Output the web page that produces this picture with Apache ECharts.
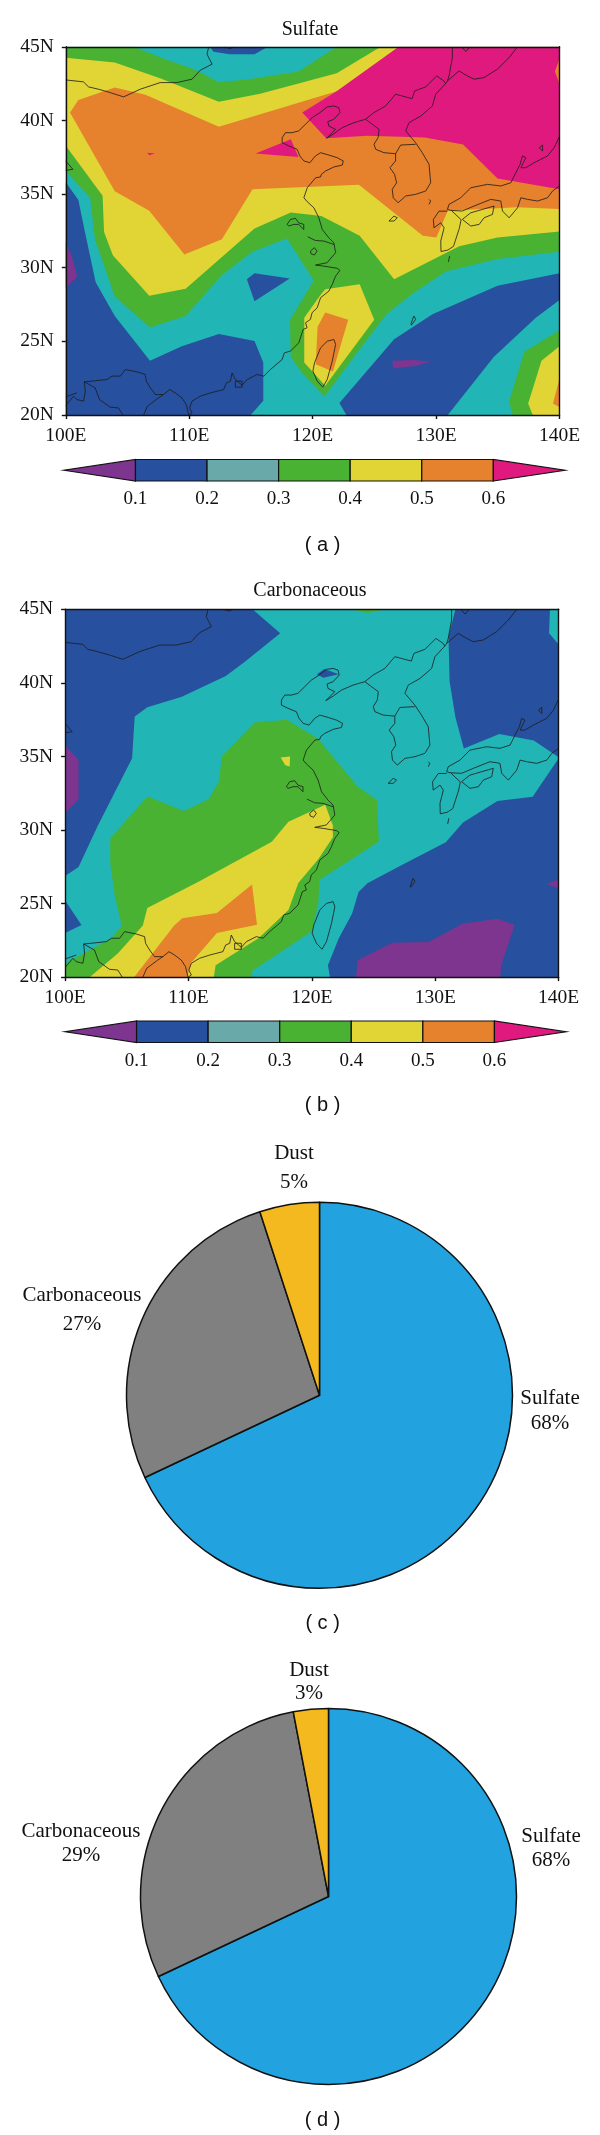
<!DOCTYPE html>
<html><head><meta charset="utf-8">
<style>html,body{margin:0;padding:0;background:#fff}#c{width:600px;height:2135px}</style>
<script src="https://cdn.jsdelivr.net/npm/echarts@6/dist/echarts.min.js"></script>
</head><body><div id="c"></div>
<script>
// ---- colour bands: index 0 = below 0.1 ... 6 = above 0.6
const bandLimits = [0, 0.1, 0.2, 0.3, 0.4, 0.5, 0.6, 0.7];
const bandColors = ['#7E3590', '#27509F', '#22B5B5', '#49B233', '#E0D535', '#E6812D', '#E0197F'];
const barColors  = ['#7E3590', '#27509F', '#6AA9A9', '#49B233', '#E0D535', '#E6812D', '#E0197F'];
const xTicks = [100, 110, 120, 130, 140];
const yTicks = [20, 25, 30, 35, 40, 45];

// ---- Sulfate contour bands [lon, lat]
const wholeMap = [[100,20],[140,20],[140,45],[100,45]];
const sBlueWest = [[100,35.81],[101.02,34.60],[101.55,32.42],[102.42,29.02],[103.97,26.72],[106.82,23.69],[109.40,24.66],[112.40,25.50],[115.29,25.02],[116,23.56],[116,20.97],[114.98,20],[100,20]];
const sBlueEast = [[122.17,20.82],[126.60,25.14],[129.71,26.84],[134.98,28.78],[140,29.63],[140,27.81],[138.08,26.60],[134.67,23.93],[130.95,20],[122.73,20]];
const sBlueTop = [[111.66,45],[111.97,44.66],[113.27,44.49],[115.29,44.49],[116.37,45]];
const sBlueTri = [[114.67,29.21],[115.29,29.63],[118.14,29.26],[115.29,27.73]];
const sPurpleWest = [[100,31.74],[100.56,30.60],[100.93,29.38],[100,28.66]];
const sPurpleSea = [[126.45,23.69],[128.16,23.73],[129.61,23.61],[128.31,23.32],[126.54,23.15]];
const sGreenMain = [[100,45],[105.52,45],[108,44.18],[110.48,43.45],[112.40,42.60],[114.82,42.79],[118.85,43.33],[121.95,45],[140,45],[140,31.08],[134.98,30.60],[130.79,29.75],[128.16,28.29],[125.98,26.84],[123.66,24.29],[120.96,21.26],[119.16,22.84],[118.23,23.93],[118.17,26.47],[120.09,29.14],[117.92,31.98],[115.13,31.08],[112.65,29.51],[109.71,26.72],[106.82,25.94],[103.97,28.05],[102.36,31.93],[101.98,34.72],[100,36.59]];
const sGreenSE = [[140,25.75],[137.15,24.29],[135.91,20.90],[136.22,20],[140,20]];
const sYellowMain = [[100,44.25],[103.97,43.93],[107.69,42.84],[112.40,41.27],[115.75,41.82],[121.95,43.21],[125.52,45],[140,45],[140,32.46],[134.98,32.05],[131.88,31.45],[126.60,29.21],[123.81,32.17],[120.71,33.51],[118.23,33.75],[115.29,32.66],[109.71,28.58],[106.76,28.10],[103.81,30.84],[103.10,32.42],[102.98,34.89],[100,38.28]];
const sYellowTaiwan = [[120.65,28.17],[121.02,28.54],[123.81,28.87],[124.99,26.47],[121.02,21.99],[119.32,23.56],[119.32,26.60]];
const sYellowSE = [[140,24.66],[138.54,23.69],[137.46,20.78],[137.83,20],[140,20]];
const sOrangeMain = [[100.34,40.54],[101.02,41.39],[103.97,42.24],[106.45,41.75],[112.40,39.57],[121.95,41.99],[126.98,45],[140,45],[140,33.99],[136.53,34.11],[130.95,33.87],[130.02,32.05],[128.93,32.17],[123.75,35.64],[115.13,35.32],[112.65,31.93],[109.61,30.89],[106.76,33.87],[103.97,35.20]];
const sOrangeTaiwan = [[121.02,26.96],[122.88,26.47],[121.64,22.96],[120.25,23.44],[120.40,25.99]];
const sOrangeSE = [[140,22.47],[139.47,20.78],[140,20.53]];
const sMagentaMain = [[119.16,40.54],[121.95,41.99],[126.98,45],[140,45],[140,35.32],[134.98,36.05],[132.19,38.36],[129.09,38.84],[124.43,38.96],[121.09,38.79]];
const sOrangeEdge = [[140,44.18],[139.63,43.33],[140,42.48]];
const sMagentaBay = [[115.38,37.75],[118.23,38.72],[118.85,37.51]];
const sMagentaDot = [[106.60,37.80],[107.22,37.75],[106.76,37.63]];
const sulfateBands = [[2,wholeMap],[1,sBlueWest],[1,sBlueEast],[1,sBlueTop],[1,sBlueTri],[0,sPurpleWest],[0,sPurpleSea],
  [3,sGreenMain],[3,sGreenSE],[4,sYellowMain],[4,sYellowTaiwan],[4,sYellowSE],[5,sOrangeMain],[5,sOrangeTaiwan],[5,sOrangeSE],
  [6,sMagentaMain],[5,sOrangeEdge],[6,sMagentaBay],[6,sMagentaDot]];

// ---- Carbonaceous contour bands [lon, lat]
const cBlueNW = [[100,45],[115.19,45],[117.43,43.37],[114.57,41.43],[113.02,40.46],[109.46,39.05],[106.67,38.35],[105.64,37.72],[105.43,34.88],[104.03,32.57],[102.64,30.27],[101.09,27.48],[100,26.87]];
const cBlueWest = [[100,25.2],[101.33,23.54],[100,22.99]];
const cBlueNE = [[131.63,45],[131.07,43.13],[131.16,40.10],[131.63,37.67],[132.31,35.53],[135.19,36.53],[137.98,36.09],[140,34.95],[140,42.60],[139.22,43.37],[139.29,45]];
const cBlueSE = [[140,34.88],[137.89,32.26],[135.04,31.97],[132.25,30.51],[130.85,29.17],[126.98,27.48],[124.50,26.38],[123.78,25.78],[123.26,24.32],[122.17,22.62],[121.30,20.80],[121.46,20],[140,20]];
const cBlueBay = [[120.40,40.58],[121.02,40.95],[122.17,40.58],[120.93,40.34]];
const cPurpleWest = [[100,35.78],[101.09,34.76],[101.09,32.09],[100,31.12]];
const cPurpleSouth = [[123.57,20],[123.72,21.17],[126.51,22.33],[129.46,22.38],[132.25,23.64],[135.04,23.96],[136.43,23.54],[135.35,20.80],[135.26,20]];
const cPurpleEdge = [[140,26.63],[139.01,26.33],[140,26.02]];
const cGreenMain = [[115.35,37.31],[117.98,37.50],[120.47,36.21],[123.72,32.94],[125.27,32.04],[125.43,29.22],[123.76,28.3],[120.6,26.6],[120.53,25.05],[120,23.11],[115.19,20.44],[115.1,20],[100,20],[100,20.92],[103.72,22.62],[104.59,23.47],[104.03,25.53],[103.66,27.72],[103.66,29.42],[106.67,32.28],[109.61,31.29],[111.63,32.09],[112.47,33.30],[112.71,35.0]];
const cGreenTop = [[123.2,45],[124.5,44.75],[126,45]];
const cYellowMain = [[121.08,31.72],[121.7,30.3],[121.7,29.5],[120.5,28],[118.9,26.4],[118.1,24.56],[115.7,22.66],[112.2,20.8],[112.05,20],[102,20],[104.27,21.6],[106.3,23.5],[106.66,24.7],[110.85,26.5],[116.75,29.2],[118.1,30.56]];
const cYellowDot = [[117.46,34.93],[118.23,35.0],[118.2,34.32],[117.85,34.4]];
const cOrangeMain = [[115.15,26.3],[115.55,23.55],[112.3,23.0],[110.2,20.96],[109.9,20],[105.6,20],[108.84,23.5],[109.5,24.0],[112.3,24.35]];
const carbonBands = [[2,wholeMap],[1,cBlueNW],[1,cBlueWest],[1,cBlueNE],[1,cBlueSE],[1,cBlueBay],[0,cPurpleWest],[0,cPurpleSouth],[0,cPurpleEdge],
  [3,cGreenMain],[3,cGreenTop],[4,cYellowMain],[4,cYellowDot],[5,cOrangeMain]];

// ---- coast and border lines [lon, lat]
const coastChina = [[124.29,40.08],[123.34,39.85],[122.40,39.51],[121.72,39.10],[121.13,38.79],[121.85,39.40],[121.31,39.62],[121.23,39.92],[121.72,40.08],[122.21,40.53],[122.12,40.87],[121.72,40.98],[121.18,40.92],[120.59,40.53],[119.96,40.19],[119.42,39.74],[118.87,39.29],[118.34,39.17],[117.80,39.17],[117.53,38.83],[117.53,38.49],[118.07,38.27],[118.74,38.04],[118.96,37.59],[119.29,37.25],[119.77,37.13],[120.23,37.59],[120.64,37.81],[121.31,37.65],[121.99,37.47],[122.48,37.25],[122.40,36.97],[121.72,36.84],[121.05,36.57],[120.70,36.34],[120.64,36.16],[120.24,36.11],[119.56,35.43],[119.29,34.75],[119.56,34.48],[120.10,34.07],[120.50,33.39],[120.78,32.60],[121.31,32.03],[121.72,31.69],[121.86,31.02],[121.17,30.34],[120.23,30.18],[120.91,30.11],[121.99,29.96],[122.21,29.82],[121.86,29.43],[121.59,28.87],[121.31,28.41],[120.64,27.96],[120.37,27.28],[119.95,26.94],[119.82,26.49],[119.42,26.26],[119.55,25.92],[119.23,25.81],[118.88,24.90],[118.20,24.34],[117.71,24.22],[117.53,23.77],[116.58,23.09],[116.04,22.64],[115.50,22.75],[114.69,22.41],[114.28,22.02],[113.74,22.41],[113.47,22.86],[113.34,22.30],[113.01,22.18],[112.79,21.73],[111.72,21.50],[110.90,21.28],[110.23,20.94],[110.03,20.48],[110.23,20.14],[109.96,20]];
const borderSouth = [[109.96,20],[109.76,20.71],[109.41,21.16],[108.87,21.50],[108.42,21.73],[107.92,21.39],[107.25,21.39],[106.85,21.84],[106.52,22.30],[106.44,22.75],[105.77,22.93],[104.82,23.09],[104.42,22.64],[103.75,22.64],[103.34,22.41],[102.12,22.30],[101.50,22.25],[101.58,21.62],[101.44,20.94],[100.90,21.05],[100.63,21.28],[100,20.65]];
const borderLaos = [[100,21.23],[100.90,21.50]];
const borderViet = [[101.50,22.25],[102.38,21.84],[102.73,21.05],[103.60,20.53],[104.27,20.48],[104.63,20]];
const borderTonkin = [[106.30,20],[106.62,20.60],[107.51,21.16],[107.92,21.39]];
const pearlBox = [[113.74,22.30],[114.28,22.30],[114.28,21.89],[113.74,21.89],[113.74,22.30]];
const taiwan = [[121.18,25.01],[121.72,25.13],[121.86,24.79],[121.59,23.66],[121.18,22.41],[120.82,21.89],[120.37,22.30],[120.02,22.98],[120.15,23.54],[120.64,24.56],[121.18,25.01]];
const taihu = [[119.82,31.13],[120.14,31.36],[120.36,31.13],[120.14,30.86],[119.87,30.95],[119.82,31.13]];
const hongze = [[117.93,32.94],[118.20,33.28],[118.61,33.35],[118.87,33.05],[119.28,32.94],[119.28,32.60],[118.87,32.94],[118.47,32.94],[118.07,32.83],[117.93,32.94]];
const yangtze = [[119.60,32.10],[120.22,31.85],[120.90,31.81],[121.72,31.58]];
const koreaCoast = [[124.29,40.08],[124.83,39.74],[125.38,39.40],[125.30,38.83],[124.97,38.38],[125.11,38.04],[125.78,37.81],[126.72,37.74],[126.72,37.25],[126.26,36.79],[126.64,36.34],[126.80,35.77],[126.45,35.32],[126.53,34.75],[126.92,34.41],[127.54,34.87],[128.34,34.98],[129.16,35.21],[129.56,35.77],[129.43,37.02],[128.88,37.81],[128.34,38.49],[127.54,39.29],[127.81,39.85],[128.76,40.30],[129.70,40.98],[129.97,41.78],[130.77,42.50]];
const koreaNorth = [[124.29,40.08],[124.96,40.53],[125.91,40.98],[126.72,41.78],[127.26,41.66],[128.06,41.48],[128.26,42.0],[129.16,42.28],[130.05,43.02],[130.64,42.68],[130.77,42.50]];
const koreaDmz = [[126.72,37.74],[127.13,38.33],[128.34,38.38]];
const russiaCoast = [[130.77,42.50],[130.92,42.68],[131.86,43.36],[132.54,43.02],[133.08,42.80],[133.88,42.91],[134.97,43.48],[135.92,44.27],[136.6,45]];
const russiaBorder = [[131.32,45],[131.32,44.27],[131.05,43.02],[130.92,42.68]];
const khanka = [[132.06,45],[132.41,44.68],[132.75,45]];
const mongoliaBorder = [[100,42.75],[101.43,42.62],[101.84,42.28],[102.65,42.12],[103.60,41.89],[104.68,41.60],[106.03,42.12],[107.65,42.57],[109.0,42.57],[110.22,42.80],[110.90,43.41],[111.85,43.82],[111.44,44.50],[111.58,45]];
const mongoliaTop = [[112.79,45],[113.33,44.88],[113.6,45]];
const qinghai = [[100,37.25],[100.57,36.68],[100,36.61]];
const honshuNorth = [[139.98,38.88],[139.57,38.15],[139.03,37.59],[137.95,37.13],[137.27,36.79],[136.87,36.79],[137.27,37.47],[137.0,37.59],[136.81,37.02],[136.46,36.45],[136.06,35.77],[135.24,35.55],[134.16,35.66],[132.81,35.43],[132.0,34.75],[131.05,34.30],[130.92,33.96]];
const honshuSouth = [[140,35.55],[139.44,35.21],[139.03,34.75],[138.22,34.53],[137.41,34.64],[136.87,34.75],[136.60,34.07],[135.92,33.39],[135.38,33.85],[135.24,34.53],[134.43,34.64],[133.08,34.19],[132.13,33.85],[131.19,33.89],[130.92,33.96]];
const kyushu = [[130.92,33.84],[130.24,33.84],[129.78,33.28],[129.83,32.71],[130.38,33.05],[130.65,32.71],[130.38,31.81],[130.40,31.1],[130.95,31.2],[131.41,31.45],[131.88,32.66],[132.03,33.26],[131.26,33.87]];
const shikoku = [[132.13,33.28],[132.81,33.73],[134.70,34.19],[134.57,33.62],[133.89,33.39],[133.49,32.94],[132.81,32.83],[132.13,33.28]];
const sado = [[138.36,38.15],[138.63,38.33],[138.63,37.92],[138.36,38.15]];
const jeju = [[126.18,33.17],[126.59,33.51],[126.86,33.39],[126.59,33.17],[126.18,33.17]];
const tsushima = [[129.43,34.64],[129.56,34.53],[129.43,34.30]];
const okinawa = [[127.97,26.21],[128.2,26.72],[128.35,26.5],[128.0,26.1],[127.97,26.21]];
const tanega = [[131.1,30.8],[131.0,30.4]];
const mapLines = [coastChina,borderSouth,borderLaos,borderViet,borderTonkin,pearlBox,taiwan,taihu,hongze,yangtze,koreaCoast,koreaNorth,koreaDmz,russiaCoast,russiaBorder,khanka,mongoliaBorder,mongoliaTop,qinghai,honshuNorth,honshuSouth,kyushu,shikoku,sado,jeju,tsushima,okinawa,tanega];

// ---- pie data
const pieNames = ['Sulfate', 'Carbonaceous', 'Dust'];
const pieColors = ['#22A3DF', '#808080', '#F4B91F'];
const pieC = [68, 27, 5];
const pieD = [68, 29, 3];

const SERIF = '"Liberation Serif", serif', SANS = '"Liberation Sans", sans-serif', INK = '#111';
const grid = [], xAxis = [], yAxis = [], series = [], title = [];

function addMap(box, bands, name) {
  const g = grid.length;
  grid.push({ left: box.left, top: box.top, width: box.width, height: box.height, containLabel: false });
  const ax0 = xAxis.length, ay0 = yAxis.length;
  const lineStyle = { color: INK, width: 1.4 };
  xAxis.push({ type: 'value', gridIndex: g, min: xTicks[0], max: xTicks[xTicks.length - 1], interval: 10, z: 10, position: 'bottom',
    splitLine: { show: false }, axisLine: { show: true, lineStyle }, axisTick: { show: true, length: 4, lineStyle },
    axisLabel: { margin: 11, fontFamily: SERIF, fontSize: 19.5, color: INK, formatter: v => v + 'E' } });
  xAxis.push({ type: 'value', gridIndex: g, min: xTicks[0], max: xTicks[xTicks.length - 1], interval: 10, z: 10, position: 'top',
    splitLine: { show: false }, axisLine: { show: true, lineStyle }, axisTick: { show: false }, axisLabel: { show: false } });
  yAxis.push({ type: 'value', gridIndex: g, min: yTicks[0], max: yTicks[yTicks.length - 1], interval: 5, z: 10, position: 'left',
    splitLine: { show: false }, axisLine: { show: true, lineStyle }, axisTick: { show: true, length: 4, lineStyle },
    axisLabel: { margin: 12, fontFamily: SERIF, fontSize: 19.5, color: INK, formatter: v => v + 'N' } });
  yAxis.push({ type: 'value', gridIndex: g, min: yTicks[0], max: yTicks[yTicks.length - 1], interval: 5, z: 10, position: 'right',
    splitLine: { show: false }, axisLine: { show: true, lineStyle }, axisTick: { show: false }, axisLabel: { show: false } });
  series.push({ type: 'custom', name, coordinateSystem: 'cartesian2d', xAxisIndex: ax0, yAxisIndex: ay0, clip: true, silent: true, z: 2,
    data: bands.map((b, i) => [i]),
    renderItem: (p, api) => ({ type: 'polygon', shape: { points: bands[p.dataIndex][1].map(c => api.coord(c)) },
      style: { fill: bandColors[bands[p.dataIndex][0]] } }) });
  series.push({ type: 'custom', coordinateSystem: 'cartesian2d', xAxisIndex: ax0, yAxisIndex: ay0, clip: true, silent: true, z: 3,
    data: mapLines.map((l, i) => [i]),
    renderItem: (p, api) => ({ type: 'polyline', shape: { points: mapLines[p.dataIndex].map(c => api.coord(c)) },
      style: { fill: 'none', stroke: '#1c1c1c', lineWidth: 0.9, opacity: 0.9 } }) });
}

function addBar(box) {
  const g = grid.length;
  grid.push({ left: box.left, top: box.top, width: box.width, height: box.height });
  const ax = xAxis.length, ay = yAxis.length;
  xAxis.push({ type: 'value', gridIndex: g, min: 0, max: 0.7, interval: 0.1, splitLine: { show: false }, axisLine: { show: false }, axisTick: { show: false },
    axisLabel: { margin: 9, fontFamily: SERIF, fontSize: 19, color: INK, formatter: v => (v > 0.05 && v < 0.65) ? v.toFixed(1) : '' } });
  yAxis.push({ type: 'value', gridIndex: g, min: 0, max: 1, show: false });
  series.push({ type: 'custom', coordinateSystem: 'cartesian2d', xAxisIndex: ax, yAxisIndex: ay, clip: false, silent: true,
    data: barColors.map((c, i) => [i]),
    renderItem: (p, api) => {
      const i = p.dataIndex, a = bandLimits[i], b = bandLimits[i + 1];
      let pts = [[a,0],[b,0],[b,1],[a,1]];
      if (i === 0) pts = [[a,0.5],[b,0],[b,1]];
      if (i === barColors.length - 1) pts = [[a,0],[b,0.5],[a,1]];
      return { type: 'polygon', shape: { points: pts.map(c => api.coord(c)) }, style: { fill: barColors[i], stroke: '#111', lineWidth: 1.2 } };
    } });
}

function addPie(values, box, labels) {
  series.push({ type: 'pie', center: [box.x, box.y], radius: box.r, startAngle: 90, clockwise: true, silent: true, animation: false,
    avoidLabelOverlap: false, minAngle: 0,
    itemStyle: { borderColor: '#111', borderWidth: 1.5 }, labelLine: { show: false },
    label: { show: true, position: 'outer', fontFamily: SERIF, fontSize: box.font, color: INK, formatter: p => p.name + '\n' + p.value + '%' },
    labelLayout: p => { const l = labels[p.dataIndex]; return { x: l[0], y: l[1], align: 'center', verticalAlign: 'middle' }; },
    data: pieNames.map((n, i) => ({ name: n, value: values[i], itemStyle: { color: pieColors[i] }, label: { lineHeight: labels[i][2] } })) });
}

function addText(text, x, y, fam, size) {
  title.push({ text, left: x, top: y, textAlign: 'center', textVerticalAlign: 'middle', padding: 0,
    textStyle: { fontFamily: fam, fontSize: size, fontWeight: 'normal', color: INK } });
}

addMap({ left: 65.8, top: 46.8, width: 493.7, height: 368.2 }, sulfateBands, 'Sulfate');
addMap({ left: 65.1, top: 609.3, width: 493.6, height: 367.8 }, carbonBands, 'Carbonaceous');
addBar({ left: 63.9, top: 459.5, width: 501, height: 21.5 });
addBar({ left: 65, top: 1021, width: 501, height: 21.5 });
addPie(pieC, { x: 319.5, y: 1395.3, r: 193, font: 21 }, [[550,1411,24.5],[82,1310,29.5],[294,1167.5,29]]);
addPie(pieD, { x: 328.5, y: 1896.5, r: 188, font: 21 }, [[551,1848.5,23.5],[81,1843,24],[309,1681.5,23]]);
addText('Sulfate', 310, 30, SERIF, 20);
addText('Carbonaceous', 310, 591, SERIF, 20);
addText('( a )', 322.6, 545, SANS, 20);
addText('( b )', 322.6, 1105, SANS, 20);
addText('( c )', 322.6, 1623, SANS, 20);
addText('( d )', 322.6, 2120, SANS, 20);

echarts.init(document.getElementById('c'), null, { renderer: 'canvas' }).setOption({
  animation: false, backgroundColor: '#fff', title, grid, xAxis, yAxis, series
});
</script></body></html>
